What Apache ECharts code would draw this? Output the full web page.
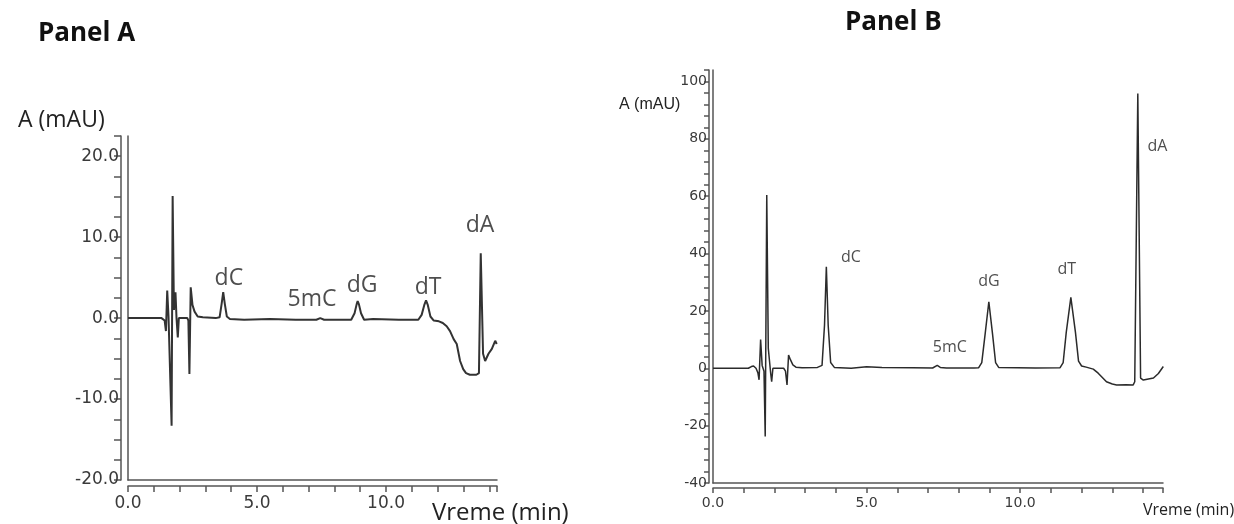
<!DOCTYPE html>
<html>
<head>
<meta charset="utf-8">
<script src="https://cdn.jsdelivr.net/npm/echarts@6/dist/echarts.min.js"></script>
<style>
  html, body { margin: 0; padding: 0; background: #fff; }
  #chart { width: 1234px; height: 524px; }
</style>
</head>
<body>
<div id="chart"></div>
<script>
// Panel A trace: [time (min), absorbance (mAU)]
const traceA = [
  [0, 0], [1.3, 0], [1.42, -0.3], [1.47, -1.6], [1.52, 3.4], [1.57, 0.2], [1.64, 0],
  [1.69, -13.3], [1.73, 15.1], [1.78, 1], [1.84, 3.2], [1.88, 0], [1.93, -2.4], [1.97, 0],
  [2.3, 0], [2.34, -0.3], [2.38, -6.9], [2.43, 3.8], [2.5, 1.6], [2.58, 0.8], [2.7, 0.2],
  [2.9, 0.1], [3.4, 0], [3.55, 0.1], [3.63, 1.8], [3.69, 3.2], [3.75, 1.8], [3.83, 0.2],
  [3.95, -0.1], [4.5, -0.2], [5.5, -0.1], [6.5, -0.2], [7.3, -0.2], [7.45, 0], [7.6, -0.2],
  [8.5, -0.2], [8.65, -0.2], [8.78, 0.6], [8.86, 1.7], [8.9, 2.1], [8.95, 1.7], [9.03, 0.6],
  [9.15, -0.2], [9.5, -0.1], [10.5, -0.2], [11.25, -0.2], [11.38, 0.4], [11.48, 1.6],
  [11.55, 2.2], [11.62, 1.6], [11.72, 0.2], [11.85, -0.3], [12.05, -0.4], [12.2, -0.6],
  [12.35, -1.0], [12.48, -1.6], [12.62, -2.6], [12.74, -3.2], [12.87, -5.3], [12.99, -6.3],
  [13.1, -6.8], [13.25, -7.0], [13.5, -7.0], [13.6, -6.8], [13.67, 8.0], [13.76, -4.4],
  [13.84, -5.3], [13.97, -4.4], [14.1, -3.8], [14.23, -2.8], [14.29, -3.2]
];

// Panel B trace
const traceB = [
  [0, 0], [1.15, 0], [1.25, 0.6], [1.32, 0.8], [1.4, 0], [1.46, -1.5], [1.5, -4],
  [1.55, 10], [1.6, 1], [1.66, -1], [1.7, -23.8], [1.75, 60.4], [1.8, 7], [1.85, 6.4],
  [1.88, -2], [1.91, -4.7], [1.95, 0], [2.0, 0.2], [2.3, 0], [2.36, -1], [2.41, -5.8],
  [2.46, 4.6], [2.52, 3], [2.6, 1.2], [2.7, 0.4], [2.9, 0.2], [3.4, 0.3], [3.55, 1],
  [3.63, 15], [3.69, 35.4], [3.75, 15], [3.83, 2], [3.95, 0.3], [4.5, 0], [5.0, 0.5],
  [5.5, 0.3], [6.5, 0.2], [7.15, 0.1], [7.3, 1.0], [7.4, 0.3], [7.6, 0.1], [8.5, 0.1],
  [8.65, 0.2], [8.75, 2], [8.86, 12], [8.98, 23.2], [9.1, 12], [9.2, 2], [9.3, 0.3],
  [10.5, 0.1], [11.3, 0.2], [11.4, 2], [11.5, 12.5], [11.65, 24.7], [11.8, 12.5],
  [11.9, 2.5], [12.0, 0.8], [12.15, 0.4], [12.38, -0.3], [12.54, -1.7], [12.81, -4.7],
  [13.0, -5.5], [13.14, -5.8], [13.45, -5.7], [13.68, -5.8], [13.73, -4.7], [13.83, 95.8],
  [13.92, -3.4], [14.01, -4.1], [14.34, -3.4], [14.5, -1.8], [14.66, 0.6]
];

// peak labels: name, x (min), y (mAU)
const peakNames = ['dC', '5mC', 'dG', 'dT', 'dA'];
const peakLabelA = [[3.91, 4.9], [7.13, 2.26], [9.07, 4.0], [11.63, 3.8], [13.64, 11.5]];
const peakLabelB = [[4.49, 38.6], [7.71, 7.1], [8.98, 30.2], [11.52, 34.3], [14.47, 77.3]];

const chart = echarts.init(document.getElementById('chart'));

const axisGray = '#555';
const tickFont = 'DejaVu Sans';

function innerAxis(extra) {
  return Object.assign({
    type: 'value',
    axisLine: { show: true, onZero: false, lineStyle: { color: axisGray, width: 1.5 } },
    axisTick: { show: false },
    axisLabel: { show: false },
    splitLine: { show: false }
  }, extra);
}
function outerAxis(extra, tickLen, fmt, fontSize, margin) {
  return Object.assign({
    type: 'value',
    axisLine: { show: true, onZero: false, lineStyle: { color: axisGray, width: 1.5 } },
    axisTick: { show: true, length: tickLen, lineStyle: { color: axisGray, width: 1.5 } },
    axisLabel: { color: '#3a3a3a', fontFamily: tickFont, fontSize: fontSize, margin: margin, formatter: fmt },
    splitLine: { show: false }
  }, extra);
}

const fmtAy = v => (Math.abs(v % 10) < 1e-9 ? v.toFixed(1) : '');
const fmtAx = v => (Math.abs(v % 5) < 1e-9 ? v.toFixed(1) : '');
const fmtBy = v => (Math.abs(v % 20) < 1e-9 ? String(v) : '');
const fmtBx = v => (Math.abs(v % 5) < 1e-9 ? v.toFixed(1) : '');

chart.setOption({
  animation: false,
  backgroundColor: '#fff',
  title: [
    { text: 'Panel A', left: 33, top: 16, textStyle: { fontFamily: 'Open Sans', fontWeight: 'bold', fontSize: 26, color: '#111' } },
    { text: 'A (mAU)', left: 13, top: 104, textStyle: { fontFamily: 'Open Sans', fontWeight: 'normal', fontSize: 23, color: '#222' } },
    { text: 'Vreme (min)', left: 427, top: 496, textStyle: { fontFamily: 'Open Sans', fontWeight: 'normal', fontSize: 24, color: '#222' } },
    { text: 'Panel B', left: 840, top: 5, textStyle: { fontFamily: 'Open Sans', fontWeight: 'bold', fontSize: 26, color: '#111' } },
    { text: 'A (mAU)', left: 614, top: 92, textStyle: { fontFamily: 'Liberation Sans', fontWeight: 'normal', fontSize: 16, color: '#222' } },
    { text: 'Vreme (min)', left: 1138, top: 497, textStyle: { fontFamily: 'Open Sans', fontWeight: 'normal', fontSize: 16, color: '#222' } }
  ],
  grid: [
    { left: 128, right: 737, top: 136, bottom: 44 },
    { left: 713, right: 71, top: 70, bottom: 41 }
  ],
  xAxis: [
    innerAxis({ gridIndex: 0, position: 'bottom', min: 0, max: 14.3, interval: 1 }),
    outerAxis({ gridIndex: 0, position: 'bottom', min: 0, max: 14.3, interval: 1, offset: 6 }, 6, fmtAx, 17, 9),
    innerAxis({ gridIndex: 1, position: 'bottom', min: 0, max: 14.65, interval: 1 }),
    outerAxis({ gridIndex: 1, position: 'bottom', min: 0, max: 14.65, interval: 1, offset: 5 }, 5, fmtBx, 14, 8)
  ],
  yAxis: [
    innerAxis({ gridIndex: 0, position: 'left', min: -20, max: 22.5, interval: 2.5 }),
    outerAxis({ gridIndex: 0, position: 'left', min: -20, max: 22.5, interval: 2.5, offset: 7 }, 7, fmtAy, 17, 2),
    innerAxis({ gridIndex: 1, position: 'left', min: -40, max: 104, interval: 4 }),
    outerAxis({ gridIndex: 1, position: 'left', min: -40, max: 104, interval: 4, offset: 4 }, 5, fmtBy, 14, 2)
  ],
  series: [
    {
      type: 'line', xAxisIndex: 0, yAxisIndex: 0, data: traceA,
      showSymbol: false, lineStyle: { color: '#333', width: 2 }
    },
    {
      type: 'line', xAxisIndex: 2, yAxisIndex: 2, data: traceB,
      showSymbol: false, lineStyle: { color: '#2b2b2b', width: 1.5 }
    },
    {
      type: 'scatter', xAxisIndex: 0, yAxisIndex: 0, symbolSize: 1,
      itemStyle: { color: 'rgba(0,0,0,0)' },
      data: peakLabelA.map((p, i) => ({ value: p, name: peakNames[i] })),
      label: { show: true, position: 'inside', formatter: '{b}', fontFamily: 'Open Sans', fontSize: 23, color: '#222' }
    },
    {
      type: 'scatter', xAxisIndex: 2, yAxisIndex: 2, symbolSize: 1,
      itemStyle: { color: 'rgba(0,0,0,0)' },
      data: peakLabelB.map((p, i) => ({ value: p, name: peakNames[i] })),
      label: { show: true, position: 'inside', formatter: '{b}', fontFamily: 'Open Sans', fontSize: 16, color: '#222' }
    }
  ]
});
</script>
</body>
</html>
